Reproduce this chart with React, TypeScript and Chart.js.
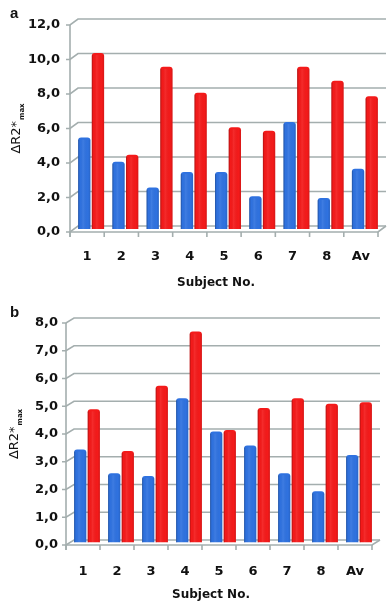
import React, { useEffect, useRef } from 'react';
import { Chart, registerables } from 'chart.js';

Chart.register(...registerables);

// ---------- data ----------
const categories = ['1', '2', '3', '4', '5', '6', '7', '8', 'Av'];

const panelABlue = [5.3, 3.9, 2.4, 3.3, 3.3, 1.9, 6.2, 1.8, 3.5];
const panelARed = [10.2, 4.3, 9.4, 7.9, 5.9, 5.7, 9.4, 8.6, 7.7];
const panelAYTicks = ['0,0', '2,0', '4,0', '6,0', '8,0', '10,0', '12,0'];

const panelBBlue = [3.35, 2.5, 2.4, 5.2, 4.0, 3.5, 2.5, 1.85, 3.15];
const panelBRed = [4.8, 3.3, 5.65, 7.6, 4.05, 4.85, 5.2, 5.0, 5.05];
const panelBYTicks = ['0,0', '1,0', '2,0', '3,0', '4,0', '5,0', '6,0', '7,0', '8,0'];

const xTitle = 'Subject No.';
const yTitleMain = 'ΔR2*';
const yTitleSub = 'max';

// ---------- plugins ----------
const depthPlugin = {
  id: 'depth3d',
  beforeDatasetsDraw(chart: any, _args: any, opts: any) {
    const { ctx, chartArea, scales } = chart;
    const { left, right, top, bottom } = chartArea;
    const dx = opts.dx, dy = opts.dy;
    const y = scales.y, x = scales.x;
    ctx.save();
    ctx.strokeStyle = '#a4aeae';
    ctx.lineWidth = 1.6;
    ctx.lineJoin = 'miter';
    y.ticks.forEach((t: any) => {
      const yp = y.getPixelForValue(t.value);
      ctx.beginPath();
      ctx.moveTo(left - 4, yp);
      ctx.lineTo(left, yp);
      ctx.lineTo(left + dx, yp - dy);
      ctx.lineTo(right + dx, yp - dy);
      ctx.stroke();
    });
    ctx.beginPath();
    ctx.moveTo(left, top);
    ctx.lineTo(left, bottom + 5);
    ctx.stroke();
    ctx.beginPath();
    ctx.moveTo(left, bottom);
    ctx.lineTo(right, bottom);
    ctx.lineTo(right + dx, bottom - dy);
    ctx.stroke();
    const n = x.ticks.length;
    for (let i = 0; i <= n; i++) {
      const xp = left + ((right - left) * i) / n;
      ctx.beginPath();
      ctx.moveTo(xp, bottom);
      ctx.lineTo(xp, bottom + 5);
      ctx.stroke();
    }
    ctx.restore();
    ctx.save();
    ctx.translate(dx / 2, -dy / 2);
  },
  afterDatasetsDraw(chart: any) {
    const { ctx } = chart;
    chart.data.datasets.forEach((_d: any, di: number) => {
      const meta = chart.getDatasetMeta(di);
      meta.data.forEach((bar: any) => {
        const p = bar.getProps(['x', 'y', 'base', 'width'], true);
        const l = p.x - p.width / 2;
        const r = p.x + p.width / 2;
        const g = ctx.createLinearGradient(l, 0, r, 0);
        g.addColorStop(0, 'rgba(0,0,0,0.28)');
        g.addColorStop(0.15, 'rgba(0,0,0,0.0)');
        g.addColorStop(0.4, 'rgba(255,255,255,0.08)');
        g.addColorStop(0.8, 'rgba(0,0,0,0.0)');
        g.addColorStop(1, 'rgba(0,0,0,0.12)');
        ctx.save();
        ctx.fillStyle = g;
        ctx.fillRect(l, p.y + 2, p.width, p.base - p.y - 2);
        ctx.restore();
      });
    });
    ctx.restore();
  },
};

const textPlugin = {
  id: 'panelTexts',
  afterDraw(chart: any, _args: any, o: any) {
    const { ctx, chartArea } = chart;
    const { left, right, top, bottom } = chartArea;
    ctx.save();
    ctx.fillStyle = '#111';
    ctx.font = 'bold 15px "Liberation Sans"';
    ctx.textAlign = 'left';
    ctx.textBaseline = 'alphabetic';
    ctx.fillText(o.letter, o.letterX, o.letterY);
    ctx.font = 'bold 12px "DejaVu Sans"';
    ctx.textAlign = 'center';
    ctx.textBaseline = 'middle';
    ctx.fillText(xTitle, (left + right) / 2 + o.xTitleShift, o.xTitleY);
    ctx.translate(o.yTitleX, (top + bottom) / 2);
    ctx.rotate(-Math.PI / 2);
    ctx.textAlign = 'left';
    ctx.textBaseline = 'alphabetic';
    ctx.font = '13px "DejaVu Sans"';
    const w1 = ctx.measureText(yTitleMain).width;
    ctx.font = 'bold 7px "DejaVu Sans"';
    const w2 = ctx.measureText(yTitleSub).width;
    const start = -(w1 + w2 + 1) / 2;
    ctx.font = '13px "DejaVu Sans"';
    ctx.fillText(yTitleMain, start, 0);
    ctx.font = 'bold 7px "DejaVu Sans"';
    ctx.fillText(yTitleSub, start + w1 + 1, 3.5);
    ctx.restore();
  },
};

type PanelProps = {
  top: number;
  height: number;
  blue: number[];
  red: number[];
  yMax: number;
  yStep: number;
  yTicks: string[];
  yAxisWidth: number;
  xAxisHeight: number;
  padTop: number;
  padRight: number;
  yTickPad: number;
  xTickPad: number;
  dx: number;
  dy: number;
  letter: string;
  letterY: number;
  xTitleY: number;
  yTitleX: number;
};

function Panel(props: PanelProps) {
  const ref = useRef<HTMLCanvasElement | null>(null);
  useEffect(() => {
    if (!ref.current) return;
    const tickFont = { family: '"DejaVu Sans"', size: 13, weight: 'bold' as const };
    const chart = new Chart(ref.current, {
      type: 'bar',
      data: {
        labels: categories,
        datasets: [
          {
            data: props.blue,
            backgroundColor: '#2f72e0',
            borderRadius: 3,
            borderSkipped: 'start',
          },
          {
            data: props.red,
            backgroundColor: '#f41a1a',
            borderRadius: 3,
            borderSkipped: 'start',
          },
        ],
      },
      options: {
        animation: false,
        responsive: false,
        devicePixelRatio: 1,
        layout: { padding: { top: props.padTop, right: props.padRight, left: 0, bottom: 0 } },
        plugins: {
          legend: { display: false },
          tooltip: { enabled: false },
          depth3d: { dx: props.dx, dy: props.dy },
          panelTexts: {
            letter: props.letter,
            letterX: 10,
            letterY: props.letterY,
            xTitleY: props.xTitleY,
            xTitleShift: -8,
            yTitleX: props.yTitleX,
          },
        } as any,
        scales: {
          x: {
            grid: { display: false, drawTicks: false },
            border: { display: false },
            categoryPercentage: 0.58,
            barPercentage: 1,
            ticks: { font: tickFont, color: '#111', padding: props.xTickPad },
            afterFit: (s: any) => {
              s.height = props.xAxisHeight;
            },
          } as any,
          y: {
            min: 0,
            max: props.yMax,
            grid: { display: false, drawTicks: false },
            border: { display: false },
            ticks: {
              stepSize: props.yStep,
              font: tickFont,
              color: '#111',
              padding: props.yTickPad,
              callback: (_v: any, i: number) => props.yTicks[i],
            },
            afterFit: (s: any) => {
              s.width = props.yAxisWidth;
            },
          },
        },
      },
      plugins: [depthPlugin, textPlugin],
    });
    return () => chart.destroy();
  }, []);
  return (
    <div style={{ position: 'absolute', left: 0, top: props.top, width: 389, height: props.height }}>
      <canvas ref={ref} width={389} height={props.height} style={{ width: 389, height: props.height, display: 'block' }} />
    </div>
  );
}

export default function App() {
  return (
    <div style={{ position: 'absolute', left: 0, top: 0, width: 389, height: 606, background: '#fff' }}>
      <Panel
        top={0}
        height={295}
        blue={panelABlue}
        red={panelARed}
        yMax={12}
        yStep={2}
        yTicks={panelAYTicks}
        yAxisWidth={70}
        xAxisHeight={63}
        padTop={25}
        padRight={11}
        yTickPad={10}
        xTickPad={17}
        dx={8}
        dy={6}
        letter="a"
        letterY={18}
        xTitleY={283}
        yTitleX={20}
      />
      <Panel
        top={295}
        height={311}
        blue={panelBBlue}
        red={panelBRed}
        yMax={8}
        yStep={1}
        yTicks={panelBYTicks}
        yAxisWidth={66}
        xAxisHeight={61}
        padTop={28}
        padRight={17}
        yTickPad={8}
        xTickPad={19}
        dx={8}
        dy={5}
        letter="b"
        letterY={22}
        xTitleY={300}
        yTitleX={18}
      />
    </div>
  );
}
